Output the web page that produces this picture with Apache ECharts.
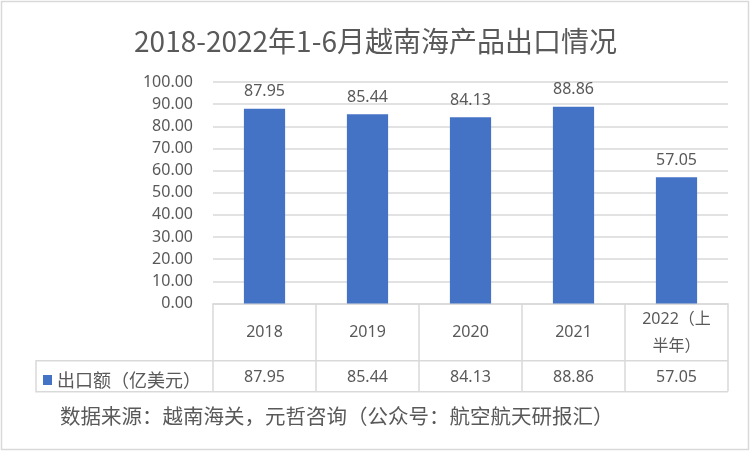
<!DOCTYPE html>
<html>
<head>
<meta charset="utf-8">
<script src="https://cdn.jsdelivr.net/npm/echarts@6/dist/echarts.min.js"></script>
<style>html,body{margin:0;padding:0;background:#fff;}#c{width:751px;height:452px;}</style>
</head>
<body>
<div id="c"></div>
<script>
var categories = ['2018', '2019', '2020', '2021', '2022（上\n半年）'];
var values = [87.95, 85.44, 84.13, 88.86, 57.05];
var seriesName = '出口额（亿美元）';
var yTicks = { min: 0, max: 100, interval: 10 };
var titleText = '2018-2022年1-6月越南海产品出口情况';
var sourceText = '数据来源：越南海关，元哲咨询（公众号：航空航天研报汇）';

var TXT = '#595959', LINE = '#d9d9d9';
var FONT = '"Noto Sans", "Noto Sans CJK SC", sans-serif';
var chart = echarts.init(document.getElementById('c'));
chart.setOption({
  animation: false,
  textStyle: { fontFamily: FONT },
  title: [
    { text: titleText, left: 'center', top: 22,
      textStyle: { fontSize: 28, fontWeight: 'normal', color: TXT, fontFamily: '"Noto Sans CJK SC", sans-serif' } },
    { text: sourceText, left: 55, top: 401,
      textStyle: { fontSize: 20.5, fontWeight: 'normal', color: TXT, fontFamily: '"Noto Sans CJK SC", sans-serif' } }
  ],
  legend: {
    left: 38, top: 366, icon: 'rect', itemWidth: 9, itemHeight: 10,
    textStyle: { fontSize: 18, color: TXT, fontFamily: '"Noto Sans CJK SC", sans-serif' },
    data: [seriesName]
  },
  grid: { left: 213, right: 23, top: 82, bottom: 148.5 },
  xAxis: [
    { type: 'category', data: categories, position: 'bottom',
      axisLine: { show: true, lineStyle: { color: LINE, width: 1.5 } },
      axisTick: { show: true, length: 88, lineStyle: { color: LINE, width: 1.5 } },
      axisLabel: { color: TXT, fontSize: 16, margin: 29, verticalAlign: 'middle', lineHeight: 27, interval: 0 } },
    { type: 'category', data: categories, position: 'bottom', offset: 0,
      axisLine: { show: false }, axisTick: { show: false },
      axisLabel: { color: TXT, fontSize: 16, margin: 73.5, verticalAlign: 'middle', interval: 0,
        formatter: function (v, i) { return values[i].toFixed(2); } } }
  ],
  yAxis: {
    type: 'value', min: yTicks.min, max: yTicks.max, interval: yTicks.interval,
    axisLine: { show: false }, axisTick: { show: false },
    axisLabel: { color: TXT, fontSize: 16, margin: 20, formatter: function (v) { return v.toFixed(2); } },
    splitLine: { lineStyle: { color: LINE, width: 1.5 } }
  },
  series: [{
    name: seriesName, type: 'bar', data: values, barWidth: '40%',
    itemStyle: { color: '#4472C4' },
    label: { show: true, position: 'top', distance: 9, color: TXT, fontSize: 16,
      formatter: function (p) { return p.value.toFixed(2); } }
  }],
  graphic: [
    { type: 'rect', shape: { x: 1.5, y: 1.5, width: 747, height: 448 },
      style: { fill: null, stroke: LINE, lineWidth: 1.5 }, silent: true, z: -1 },
    { type: 'polyline', shape: { points: [[728, 360.7], [36, 360.7], [36, 391.7], [728, 391.7]] },
      style: { fill: null, stroke: LINE, lineWidth: 1.5 }, silent: true }
  ]
});
</script>
</body>
</html>
